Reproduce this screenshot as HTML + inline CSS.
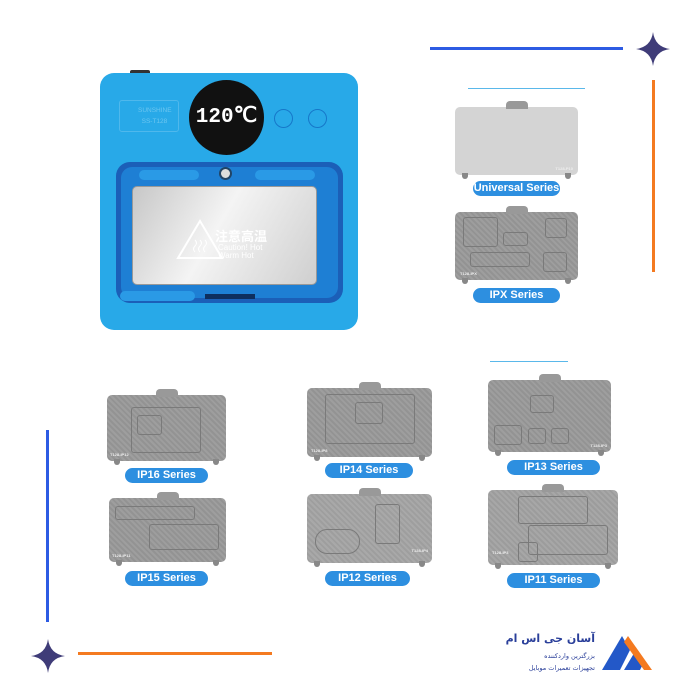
<!DOCTYPE html>
<html><head><meta charset="utf-8"><style>
*{margin:0;padding:0;box-sizing:border-box}
body{width:700px;height:700px;background:#fff;position:relative;overflow:hidden;font-family:"Liberation Sans","Noto Sans CJK SC",sans-serif}
.a{position:absolute}
.plate{position:absolute;background:#999 repeating-linear-gradient(45deg,rgba(255,255,255,.05) 0 2px,rgba(0,0,0,.04) 2px 4px);border-radius:5px}
.plate:before{content:"";position:absolute;left:50%;top:-6px;width:22px;height:8px;margin-left:-11px;background:#999;border-radius:4px 4px 0 0}
.plate .f{position:absolute;bottom:-4px;width:6px;height:6px;background:#888;border-radius:0 0 3px 3px}
.plate .in{position:absolute;border:1px solid #7a7a7a;border-radius:3px}
.plate .t{position:absolute;color:#eee;font-size:4px;font-weight:bold}
.pill{position:absolute;height:15px;background:#2d8fe0;border-radius:8px;color:#fff;font-weight:bold;font-size:11px;text-align:center;line-height:15px}
</style></head><body>

<div class="a" style="left:430px;top:47px;width:193px;height:3px;background:#2d5be3"></div>
<div class="a" style="left:652px;top:80px;width:3px;height:192px;background:#f47a20"></div>
<div class="a" style="left:468px;top:88px;width:117px;height:1px;background:#5ab8ea"></div>
<div class="a" style="left:490px;top:361px;width:78px;height:1px;background:#5ab8ea"></div>
<div class="a" style="left:46px;top:430px;width:3px;height:192px;background:#2d5be3"></div>
<div class="a" style="left:78px;top:652px;width:194px;height:3px;background:#f47a20"></div>
<svg class="a" style="left:636px;top:32px" width="34" height="34" viewBox="-17 -17 34 34"><path d="M0 -17 Q2 -2 17 0 Q2 2 0 17 Q-2 2 -17 0 Q-2 -2 0 -17Z" fill="#3f3c78"/></svg>
<svg class="a" style="left:31px;top:639px" width="34" height="34" viewBox="-17 -17 34 34"><path d="M0 -17 Q2 -2 17 0 Q2 2 0 17 Q-2 2 -17 0 Q-2 -2 0 -17Z" fill="#3f3c78"/></svg>

<div class="a" style="left:130px;top:70px;width:20px;height:6px;background:#333;border-radius:2px"></div>
<div class="a" style="left:100px;top:73px;width:258px;height:257px;background:#28a9e8;border-radius:14px"></div>
<div class="a" style="left:119px;top:100px;width:60px;height:32px;border:1px solid #4fb8ec;border-radius:3px;color:#6cc6f0;font-size:6.5px;padding:4px 0 0 18px;line-height:11px">SUNSHINE<br>&nbsp;&nbsp;SS-T128</div>
<div class="a" style="left:189px;top:80px;width:75px;height:75px;background:#111;border-radius:50%;color:#fff;font-size:21px;font-weight:bold;text-align:center;line-height:75px;font-family:'Liberation Mono',monospace">120℃</div>
<div class="a" style="left:274px;top:109px;width:19px;height:19px;border:1.5px solid #1677c9;border-radius:50%"></div>
<div class="a" style="left:308px;top:109px;width:19px;height:19px;border:1.5px solid #1677c9;border-radius:50%"></div>
<div class="a" style="left:116px;top:162px;width:227px;height:141px;background:#1b5fb8;border-radius:14px"></div>
<div class="a" style="left:121px;top:167px;width:217px;height:131px;background:#1e7fd4;border-radius:11px"></div>
<div class="a" style="left:139px;top:170px;width:60px;height:10px;background:#2a9ae6;border-radius:5px"></div>
<div class="a" style="left:255px;top:170px;width:60px;height:10px;background:#2a9ae6;border-radius:5px"></div>
<div class="a" style="left:219px;top:167px;width:13px;height:13px;background:#ddd;border:2px solid #246;border-radius:50%"></div>
<div class="a" style="left:132px;top:186px;width:185px;height:99px;background:linear-gradient(120deg,#c7c7c7,#f4f4f4 45%,#cfcfcf);border-radius:5px;border:1px solid #999"></div>
<svg class="a" style="left:176px;top:218px" width="48" height="42"><path d="M24 3 L46 40 L2 40Z" fill="none" stroke="#fff" stroke-width="2"/><path d="M19 22q3 3 0 6q-3 3 0 6M24 22q3 3 0 6q-3 3 0 6M29 22q3 3 0 6q-3 3 0 6" stroke="#fff" fill="none"/></svg>
<div class="a" style="left:215px;top:226px;color:#fff;font-size:13px;font-weight:bold">注意高温</div>
<div class="a" style="left:218px;top:244px;color:#fff;font-size:8px;line-height:8px">Caution! Hot<br>Warm Hot</div>
<div class="a" style="left:120px;top:291px;width:75px;height:10px;background:#2a9ae6;border-radius:5px"></div>
<div class="a" style="left:205px;top:294px;width:50px;height:5px;background:#0e2e5e"></div>

<div class="plate" style="left:455px;top:107px;width:123px;height:68px;background:#d4d4d4"><div class="f" style="left:7px"></div><div class="f" style="right:7px"></div><div class="t" style="right:5px;bottom:4px">T128-P10</div></div>
<div class="pill" style="left:473px;top:181px;width:87px">Universal Series</div>

<div class="plate" style="left:455px;top:212px;width:123px;height:68px"><div class="in" style="left:8px;top:5px;width:35px;height:30px"></div><div class="in" style="left:48px;top:20px;width:25px;height:14px"></div><div class="in" style="left:90px;top:6px;width:22px;height:20px"></div><div class="in" style="left:88px;top:40px;width:24px;height:20px"></div><div class="in" style="left:15px;top:40px;width:60px;height:15px"></div><div class="f" style="left:7px"></div><div class="f" style="right:7px"></div><div class="t" style="left:5px;bottom:4px">T128-IPX</div></div>
<div class="pill" style="left:473px;top:288px;width:87px">IPX Series</div>

<div class="plate" style="left:107px;top:395px;width:119px;height:66px"><div class="in" style="left:24px;top:12px;width:70px;height:46px"></div><div class="in" style="left:30px;top:20px;width:25px;height:20px"></div><div class="f" style="left:7px"></div><div class="f" style="right:7px"></div><div class="t" style="left:3px;bottom:4px">T128-IP12</div></div>
<div class="pill" style="left:125px;top:468px;width:83px">IP16 Series</div>

<div class="plate" style="left:109px;top:498px;width:117px;height:64px"><div class="in" style="left:6px;top:8px;width:80px;height:14px"></div><div class="in" style="left:40px;top:26px;width:70px;height:26px"></div><div class="f" style="left:7px"></div><div class="f" style="right:7px"></div><div class="t" style="left:3px;bottom:4px">T128-IP11</div></div>
<div class="pill" style="left:125px;top:571px;width:83px">IP15 Series</div>

<div class="plate" style="left:307px;top:388px;width:125px;height:69px"><div class="in" style="left:18px;top:6px;width:90px;height:50px"></div><div class="in" style="left:48px;top:14px;width:28px;height:22px"></div><div class="f" style="left:7px"></div><div class="f" style="right:7px"></div><div class="t" style="left:4px;bottom:4px">T128-IP8</div></div>
<div class="pill" style="left:325px;top:463px;width:88px">IP14 Series</div>

<div class="plate" style="left:307px;top:494px;width:125px;height:69px;background-color:#a4a4a4"><div class="in" style="left:68px;top:10px;width:25px;height:40px"></div><div class="in" style="left:8px;top:35px;width:45px;height:25px;border-radius:12px"></div><div class="f" style="left:7px"></div><div class="f" style="right:7px"></div><div class="t" style="right:4px;bottom:10px">T128-IP4</div></div>
<div class="pill" style="left:325px;top:571px;width:85px">IP12 Series</div>

<div class="plate" style="left:488px;top:380px;width:123px;height:72px"><div class="in" style="left:6px;top:45px;width:28px;height:20px"></div><div class="in" style="left:40px;top:48px;width:18px;height:16px"></div><div class="in" style="left:63px;top:48px;width:18px;height:16px"></div><div class="in" style="left:42px;top:15px;width:24px;height:18px"></div><div class="f" style="left:7px"></div><div class="f" style="right:7px"></div><div class="t" style="right:4px;bottom:4px">T128-IP3</div></div>
<div class="pill" style="left:507px;top:460px;width:93px">IP13 Series</div>

<div class="plate" style="left:488px;top:490px;width:130px;height:75px;background-color:#a2a2a2"><div class="in" style="left:30px;top:6px;width:70px;height:28px"></div><div class="in" style="left:40px;top:35px;width:80px;height:30px"></div><div class="in" style="left:30px;top:52px;width:20px;height:20px"></div><div class="f" style="left:7px"></div><div class="f" style="right:7px"></div><div class="t" style="left:4px;bottom:10px">T128-IP3</div></div>
<div class="pill" style="left:507px;top:573px;width:93px">IP11 Series</div>

<svg class="a" style="left:600px;top:632px" width="55" height="40"><path d="M2 38 L22 4 L30 18 L20 38Z" fill="#2358c8"/><path d="M24 38 L36 18 L44 30 L40 38Z" fill="#2358c8"/><path d="M28 4 L52 38 L44 38 L24 10Z" fill="#f47a20"/></svg>
<div class="a" style="left:495px;top:632px;width:100px;text-align:right;white-space:nowrap;color:#2a3f9a;font-weight:bold;font-size:11px;font-family:'DejaVu Sans',sans-serif" dir="rtl">آسان جی اس ام</div>
<div class="a" style="left:495px;top:652px;width:100px;text-align:right;white-space:nowrap;color:#2a3f9a;font-size:6.5px;font-family:'DejaVu Sans',sans-serif" dir="rtl">بزرگترین واردکننده</div>
<div class="a" style="left:495px;top:664px;width:100px;text-align:right;white-space:nowrap;color:#2a3f9a;font-size:6.5px;font-family:'DejaVu Sans',sans-serif" dir="rtl">تجهیزات تعمیرات موبایل</div>
</body></html>
